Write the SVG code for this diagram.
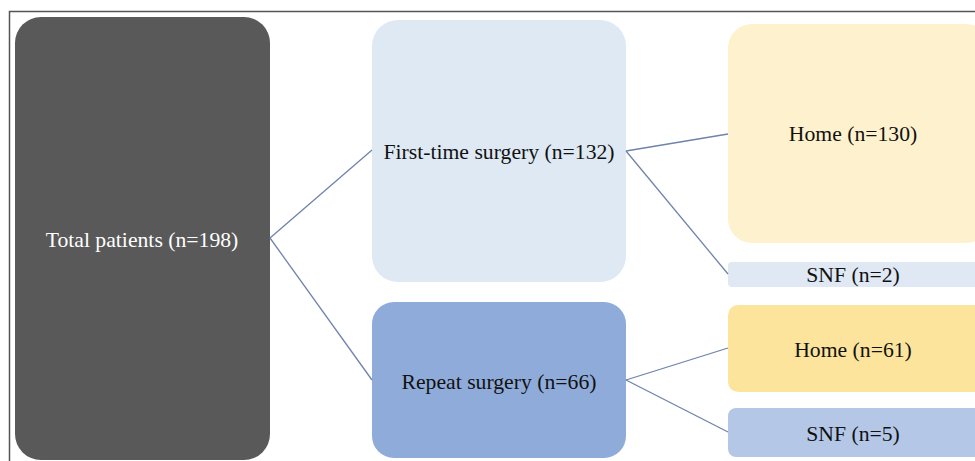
<svg xmlns="http://www.w3.org/2000/svg" width="975" height="461" viewBox="0 0 975 461">
<style>
text{font-family:"Liberation Serif","Times New Roman",serif;font-size:21.7px;text-anchor:middle;fill:#111111}
.conn line{stroke:#7083aa;stroke-width:1.3}
</style>
<rect x="0" y="0" width="975" height="461" fill="#ffffff"/>
<path d="M9.5 461V11.5H975" fill="none" stroke="#555" stroke-width="1.5"/>
<g id="total">
<rect x="15" y="17" width="255" height="443" rx="26" fill="#595959"/>
<text x="142" y="247" style="fill:#ffffff">Total patients (n=198)</text>
</g>
<g id="first">
<rect x="372" y="20" width="254" height="262" rx="26" fill="#dee9f4"/>
<text x="499" y="159">First-time surgery (n=132)</text>
</g>
<g id="repeat">
<rect x="372" y="302" width="254" height="156" rx="22" fill="#8fabd9"/>
<text x="499" y="389">Repeat surgery (n=66)</text>
</g>
<g id="home130">
<rect x="728" y="24" width="262" height="219" rx="24" fill="#fdf2cd"/>
<text x="853" y="141">Home (n=130)</text>
</g>
<g id="snf2">
<rect x="728" y="262" width="262" height="25" rx="4" fill="#dfe8f3"/>
<text x="853" y="282">SNF (n=2)</text>
</g>
<g id="home61">
<rect x="728" y="305" width="262" height="87" rx="10" fill="#fde49c"/>
<text x="853" y="357">Home (n=61)</text>
</g>
<g id="snf5">
<rect x="728" y="408" width="262" height="49" rx="8" fill="#b4c7e7"/>
<text x="853" y="441">SNF (n=5)</text>
</g>
<g class="conn" id="connectors">
<line x1="270" y1="238" x2="372" y2="150"/>
<line x1="270" y1="238" x2="372" y2="380"/>
<line x1="626" y1="151" x2="728" y2="134"/>
<line x1="626" y1="151" x2="728" y2="274"/>
<line x1="626" y1="380" x2="728" y2="348"/>
<line x1="626" y1="380" x2="728" y2="432"/>
</g>
</svg>
